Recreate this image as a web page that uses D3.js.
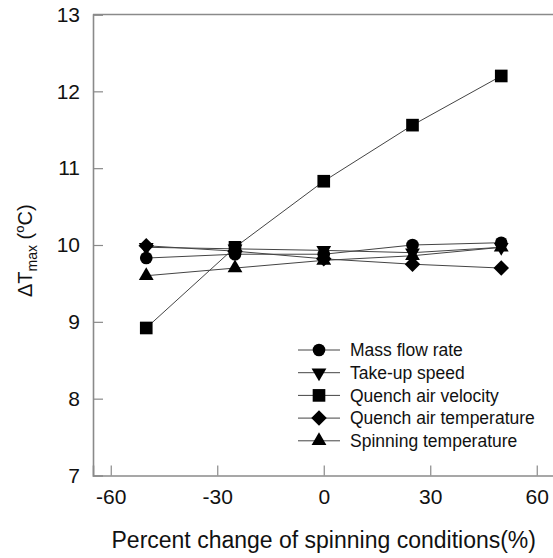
<!DOCTYPE html>
<html><head><meta charset="utf-8">
<script src="https://cdn.jsdelivr.net/npm/d3@7"></script>
<style>body{margin:0;background:#fff}svg{display:block}text{font-family:"Liberation Sans",Arial,sans-serif;fill:#111}</style>
</head><body>
<script>
const xValues = [-50, -25, 0, 25, 50];
const seriesNames = ["Mass flow rate","Take-up speed","Quench air velocity","Quench air temperature","Spinning temperature"];
const massFlow = [9.83, 9.88, 9.88, 10.00, 10.03];
const takeUp = [9.97, 9.95, 9.93, 9.90, 9.97];
const quenchVel = [8.92, 9.97, 10.83, 11.56, 12.20];
const quenchTemp = [9.99, 9.92, 9.82, 9.75, 9.70];
const spinTemp = [9.60, 9.70, 9.80, 9.86, 9.97];
const xTicks = [-60, -30, 0, 30, 60];
const yTicks = [7, 8, 9, 10, 11, 12, 13];
const markerTypes = ["circle","triDown","square","diamond","triUp"];

const W = 553, H = 558;
const svg = d3.select("body").append("svg").attr("width", W).attr("height", H);
const x = d3.scaleLinear().domain([-65, 65]).range([93, 554.5]);
const y = d3.scaleLinear().domain([7, 13]).range([475.5, 14.5]);
const axisColor = "#8a8a8a";

// top border
svg.append("line").attr("x1", x(-65)).attr("x2", W + 5).attr("y1", y(13)).attr("y2", y(13))
  .attr("stroke", axisColor).attr("stroke-width", 1.6);

const xAxis = svg.append("g").attr("transform", `translate(0,${y(7)})`)
  .call(d3.axisBottom(x).tickValues(xTicks).tickSize(-10).tickPadding(14).tickFormat(d => String(d)));
const yAxis = svg.append("g").attr("transform", `translate(${x(-65)},0)`)
  .call(d3.axisLeft(y).tickValues(yTicks).tickSize(-10).tickPadding(13).tickFormat(d => String(d)));
[xAxis, yAxis].forEach(g => {
  g.select(".domain").attr("stroke", axisColor).attr("stroke-width", 1.6);
  g.selectAll(".tick line").attr("stroke", axisColor).attr("stroke-width", 1.2);
  g.selectAll(".tick text").attr("font-size", 21).attr("fill", "#111")
    .attr("font-family", '"Liberation Sans",Arial,sans-serif');
});
yAxis.selectAll(".tick").filter(d => d === 7).select("line").remove();
xAxis.selectAll(".tick text").attr("dy", "0.71em");

function symbolPath(type, size) {
  if (type === "circle") return d3.symbol(d3.symbolCircle, size)();
  if (type === "square") return d3.symbol(d3.symbolSquare, size)();
  if (type === "diamond") return d3.symbol(d3.symbolSquare, size)();
  return d3.symbol(d3.symbolTriangle, size)();
}
function rot(type) { return type === "diamond" ? 45 : (type === "triDown" ? 180 : 0); }
const sizes = {circle: 125, square: 160, diamond: 120, triUp: 95, triDown: 95};

const seriesData = [massFlow, takeUp, quenchVel, quenchTemp, spinTemp];
const line = d3.line().x((d, i) => x(xValues[i])).y(d => y(d));

seriesData.forEach((vals, si) => {
  svg.append("path").datum(vals).attr("d", line).attr("fill", "none")
    .attr("stroke", "#444").attr("stroke-width", 1);
});
seriesData.forEach((vals, si) => {
  const t = markerTypes[si];
  svg.append("g").selectAll("path").data(vals).join("path")
    .attr("d", symbolPath(t, sizes[t]))
    .attr("transform", (d, i) => `translate(${x(xValues[i])},${y(d)}) rotate(${rot(t)})`)
    .attr("fill", "#000");
});

// legend
const legY0 = 350, legDy = 22.7;
const leg = svg.append("g");
seriesNames.forEach((name, i) => {
  const t = markerTypes[i];
  const yy = legY0 + i * legDy;
  leg.append("line").attr("x1", 298).attr("x2", 340).attr("y1", yy).attr("y2", yy)
    .attr("stroke", "#444").attr("stroke-width", 1);
  leg.append("path").attr("d", symbolPath(t, sizes[t]))
    .attr("transform", `translate(319,${yy}) rotate(${rot(t)})`).attr("fill", "#000");
  leg.append("text").attr("x", 350).attr("y", yy).attr("dy", "0.36em")
    .attr("font-size", 17.5).text(name);
});

// x title
svg.append("text").attr("x", x(0)).attr("y", 548).attr("text-anchor", "middle")
  .attr("font-size", 23).text("Percent change of spinning conditions(%)");

// y title
const yt = svg.append("text").attr("transform", "translate(32,297) rotate(-90)")
  .attr("font-size", 20);
yt.append("tspan").text("\u0394T");
yt.append("tspan").attr("font-size", 14).attr("dy", 5).text("max");
yt.append("tspan").attr("dy", -5).text(" (");
yt.append("tspan").attr("font-size", 13).attr("dy", -8).text("o");
yt.append("tspan").attr("dy", 8).text("C)");
</script>
</body></html>
